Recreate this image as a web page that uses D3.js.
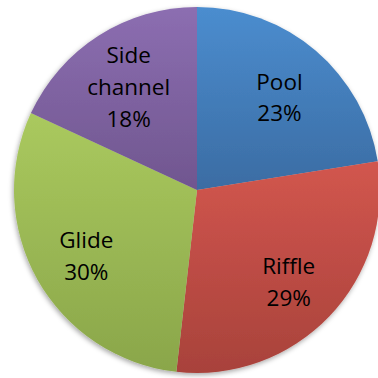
<!DOCTYPE html>
<html>
<head>
<meta charset="utf-8">
<script src="https://cdn.jsdelivr.net/npm/d3@7/dist/d3.min.js"></script>
<style>
  body { margin: 0; background: #fff; }
  svg { display: block; }
  .label { font-family: 'Open Sans', sans-serif; font-size: 22.5px; fill: #000; }
</style>
</head>
<body>
<svg width="378" height="378"></svg>
<script>
// slice data, clockwise from 12 o'clock
var categories = ['Pool', 'Riffle', 'Glide', 'Side channel'];
var shares = [22.5, 29.3, 30.1, 18.1];

// excel 2007 style gradients, light at top -> darker at bottom
var topColors = ['#4b8dcf', '#d2564e', '#aac95e', '#8c6eb1'];
var bottomColors = ['#3b6ca3', '#a8423b', '#8aa64a', '#70568f'];

var svg = d3.select('svg'),
    cx = 197, cy = 190,
    radius = 183,
    labelRadius = 127,
    lineH = 31.7,
    capH = 16,
    labelShift = 4; // excel sits the text block a bit below the centroid

var defs = svg.append('defs');

var shadow = defs.append('filter')
  .attr('id', 'shadow')
  .attr('x', '-10%').attr('y', '-10%')
  .attr('width', '120%').attr('height', '120%');
shadow.append('feDropShadow')
  .attr('dx', -1).attr('dy', 2)
  .attr('stdDeviation', 2.5)
  .attr('flood-color', '#000')
  .attr('flood-opacity', 0.35);

categories.forEach(function(c, i) {
  var lg = defs.append('linearGradient')
    .attr('id', 'grad' + i)
    .attr('x1', 0).attr('y1', 0)
    .attr('x2', 0).attr('y2', 1);
  lg.append('stop').attr('offset', '0%').attr('stop-color', topColors[i]);
  lg.append('stop').attr('offset', '100%').attr('stop-color', bottomColors[i]);
});

var pie = d3.pie().sort(null).value(function(d) { return d; });
var arcs = pie(shares);
var total = d3.sum(shares);

var arc = d3.arc().innerRadius(0).outerRadius(radius);
var labelArc = d3.arc().innerRadius(labelRadius).outerRadius(labelRadius);

var g = svg.append('g')
  .attr('transform', 'translate(' + cx + ',' + cy + ')');

g.append('g')
  .attr('filter', 'url(#shadow)')
  .selectAll('path')
  .data(arcs)
  .enter()
  .append('path')
  .attr('d', arc)
  .attr('fill', function(d, i) { return 'url(#grad' + i + ')'; });

// labels: name split on spaces, then rounded percent
var labels = g.selectAll('.label')
  .data(arcs)
  .enter()
  .append('text')
  .attr('class', 'label')
  .attr('text-anchor', 'middle');

labels.each(function(d, i) {
  var lines = categories[i].split(' ');
  lines.push(Math.round(d.value / total * 100) + '%');
  var c = labelArc.centroid(d);
  var firstBase = c[1] + labelShift - ((lines.length - 1) * lineH + capH) / 2 + capH;
  d3.select(this).selectAll('tspan')
    .data(lines)
    .enter()
    .append('tspan')
    .attr('x', c[0])
    .attr('y', function(t, k) { return firstBase + k * lineH; })
    .text(function(t) { return t; });
});
</script>
</body>
</html>
